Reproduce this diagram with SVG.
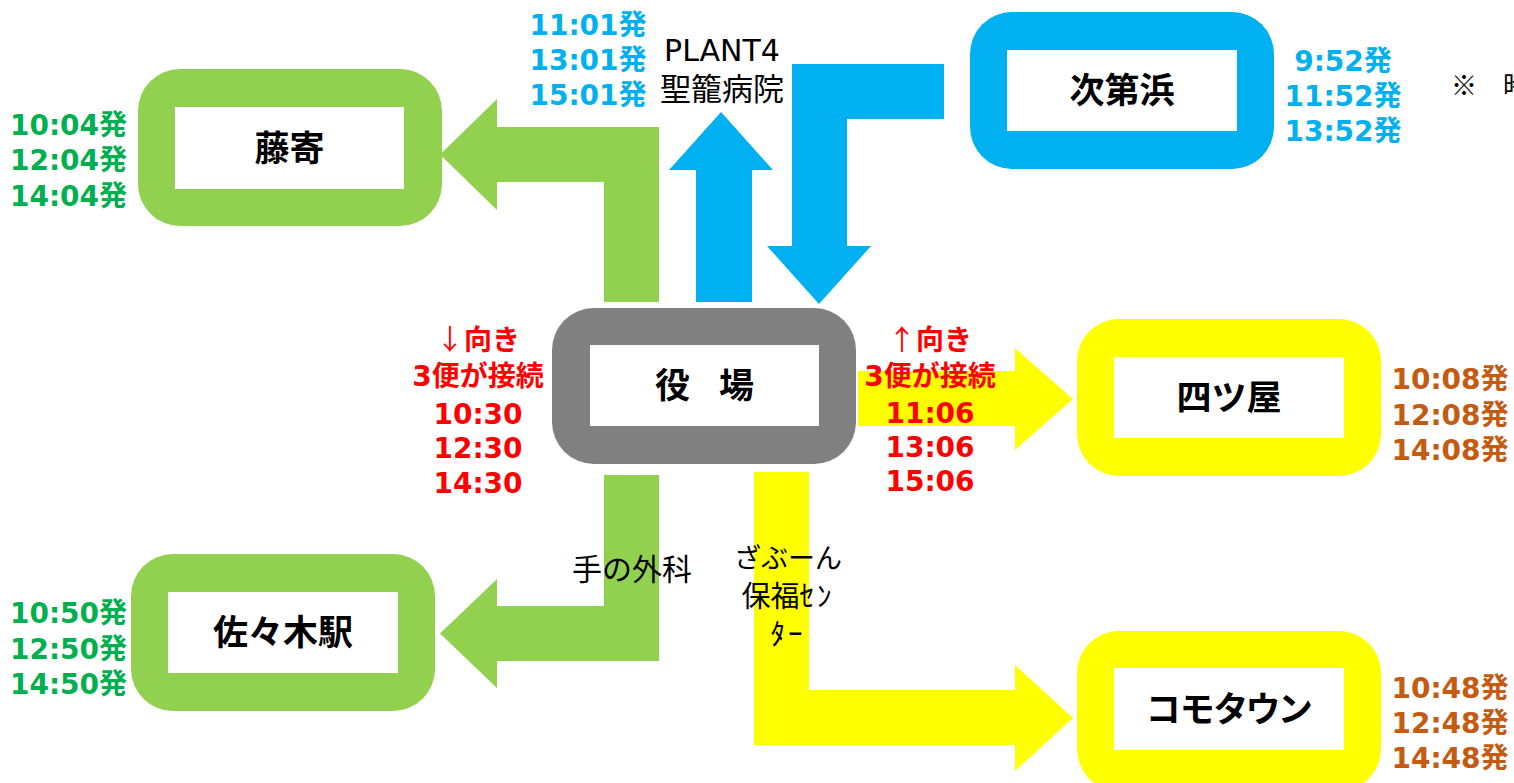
<svg xmlns="http://www.w3.org/2000/svg" width="1514" height="783" viewBox="0 0 1514 783">
<style>
.inner{fill:#ffffff}
.g{fill:#92D050}.b{fill:#00B0F0}.y{fill:#FFFF00}.k{fill:#808080}
.name{font-family:"Noto Sans CJK JP",sans-serif;font-weight:bold;font-size:35px;fill:#000;text-anchor:middle}
.time{font-family:"DejaVu Sans","Noto Sans CJK JP",sans-serif;font-weight:bold;font-size:28px;text-anchor:middle}
.tb{fill:#00B0F0}.tg{fill:#00B050}.to{fill:#C55A11}.tr{fill:#FF0000}
.lbl{font-family:"Noto Sans CJK JP",sans-serif;font-size:30px;fill:#000;text-anchor:middle}
.arr{font-family:"Noto Sans CJK JP",sans-serif;font-weight:normal}
.hw{letter-spacing:3px}
</style>
<rect width="1514" height="783" fill="#ffffff"/>
<g id="connectors">
<polygon class="g" points="604,302 604,182 497,182 497,210 440,154.5 497,99 497,127 659,127 659,302"/>
<polygon class="g" points="604,475 659,475 659,661 497,661 497,688 440,633.5 497,579 497,606 604,606"/>
<polygon class="b" points="696,302 696,170 669,170 721,112 773,170 752,170 752,302"/>
<polygon class="b" points="944,64 944,119 847,119 847,246 871,246 819,304 767,246 792,246 792,64"/>
<polygon class="y" points="858,371 1015,371 1015,348 1073,399 1015,450 1015,426 858,426"/>
<polygon class="y" points="754,472 809,472 809,690 1015,690 1015,665 1073,718 1015,771 1015,745 754,745"/>
<text x="722" y="61" style="font-family:'DejaVu Sans',sans-serif;font-size:30px;text-anchor:middle;fill:#000">PLANT4</text>
<text x="722" y="100" class="lbl" style="font-size:31px">聖籠病院</text>
<text x="632" y="580" class="lbl">手の外科</text>
<text class="lbl" style="font-size:27px"><tspan x="788" y="568">ざぶーん</tspan><tspan x="788" y="607" style="font-size:29px">保福<tspan class="hw">ｾﾝ</tspan></tspan><tspan x="788" y="645" class="hw" style="font-size:29px">ﾀｰ</tspan></text>
</g>
<g id="node-fujiyori">
<rect class="g" x="138" y="69" width="304" height="157" rx="42"/>
<rect class="inner" x="175" y="107" width="229" height="82"/>
<text class="name" x="289.5" y="161">藤寄</text>
<text class="time tg"><tspan x="68.5" y="135">10:04発</tspan><tspan x="68.5" y="170">12:04発</tspan><tspan x="68.5" y="206">14:04発</tspan></text>
</g>
<g id="node-sasaki">
<rect class="g" x="131" y="554" width="304" height="157" rx="42"/>
<rect class="inner" x="168" y="592" width="230" height="81"/>
<text class="name" x="283" y="645">佐々木駅</text>
<text class="time tg"><tspan x="68.5" y="623">10:50発</tspan><tspan x="68.5" y="659">12:50発</tspan><tspan x="68.5" y="694">14:50発</tspan></text>
</g>
<g id="node-tsugihama">
<rect class="b" x="970" y="12" width="304" height="157" rx="42"/>
<rect class="inner" x="1007" y="50" width="230" height="81"/>
<text class="name" x="1122" y="103">次第浜</text>
<text class="time tb"><tspan x="1343" y="71">9:52発</tspan><tspan x="1343" y="106">11:52発</tspan><tspan x="1343" y="141">13:52発</tspan></text>
</g>
<g id="times-plant4">
<text class="time tb"><tspan x="588" y="35">11:01発</tspan><tspan x="588" y="70">13:01発</tspan><tspan x="588" y="105">15:01発</tspan></text>
</g>
<g id="node-yakuba">
<rect class="k" x="552" y="308" width="304" height="156" rx="42"/>
<rect class="inner" x="590" y="345" width="229" height="81"/>
<text class="name" x="703" y="398" style="letter-spacing:-3px">役　場</text>
<text class="time tr"><tspan x="478" y="350"><tspan class="arr">↓</tspan>向き</tspan><tspan x="478" y="386">3便が接続</tspan><tspan x="478" y="424">10:30</tspan><tspan x="478" y="458">12:30</tspan><tspan x="478" y="493">14:30</tspan></text>
<text class="time tr"><tspan x="930" y="350"><tspan class="arr">↑</tspan>向き</tspan><tspan x="930" y="386">3便が接続</tspan><tspan x="930" y="423">11:06</tspan><tspan x="930" y="457">13:06</tspan><tspan x="930" y="491">15:06</tspan></text>
</g>
<g id="node-yotsuya">
<rect class="y" x="1077" y="319" width="304" height="157" rx="42"/>
<rect class="inner" x="1114" y="357" width="230" height="81"/>
<text class="name" x="1229" y="410">四ツ屋</text>
<text class="time to"><tspan x="1450" y="389">10:08発</tspan><tspan x="1450" y="425">12:08発</tspan><tspan x="1450" y="460">14:08発</tspan></text>
</g>
<g id="node-komotown">
<rect class="y" x="1077" y="631" width="304" height="160" rx="42"/>
<rect class="inner" x="1114" y="668" width="230" height="82"/>
<text class="name" x="1229" y="722" style="font-feature-settings:'palt'">コモタウン</text>
<text class="time to"><tspan x="1450" y="698">10:48発</tspan><tspan x="1450" y="733">12:48発</tspan><tspan x="1450" y="768">14:48発</tspan></text>
</g>
<g id="note">
<text x="1451" y="95" style="font-family:'Noto Sans CJK JP',sans-serif;font-size:26px;fill:#000">※　時</text>
</g>
</svg>
